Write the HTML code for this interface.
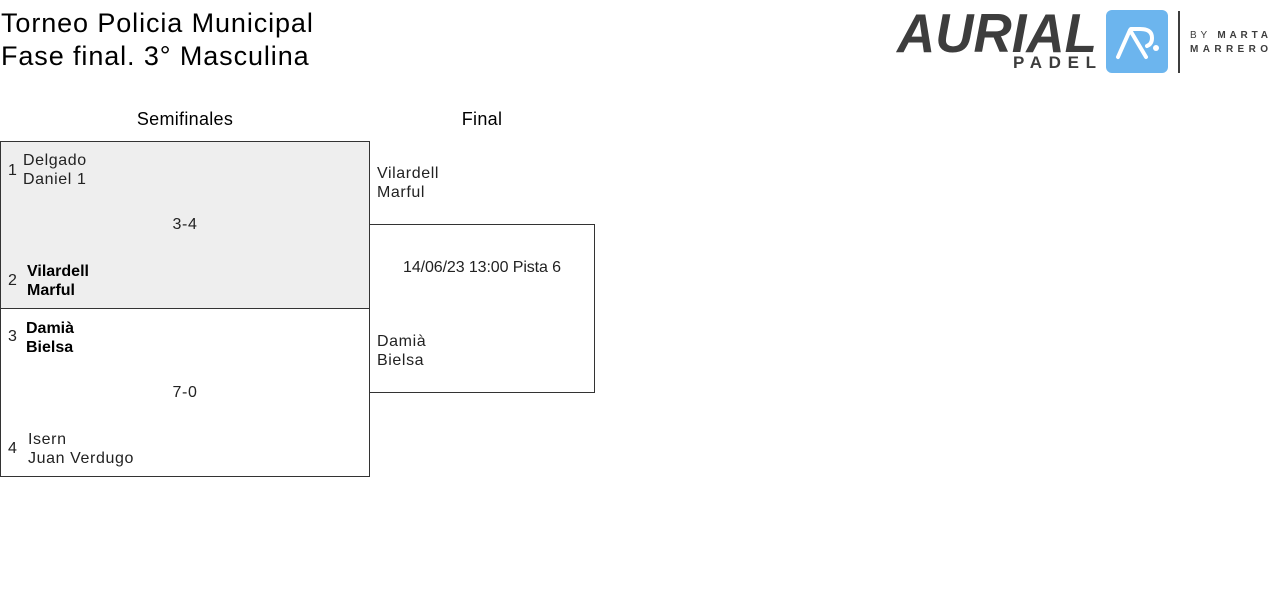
<!DOCTYPE html>
<html>
<head>
<meta charset="utf-8">
<style>
  html,body{margin:0;padding:0;background:#fff;}
  body{width:1280px;height:595px;position:relative;overflow:hidden;font-family:"Liberation Sans",Arial,sans-serif;color:#222;}
  .t{position:absolute;white-space:nowrap;}
  .title{font-size:27px;letter-spacing:0.9px;color:#000;left:1px;line-height:31px;}
  .hdr{font-size:18px;color:#000;transform:translateX(-50%);letter-spacing:0.3px;}
  .s{font-size:16px;letter-spacing:0.6px;line-height:19px;color:#222;}
  .b{font-weight:bold;color:#000;letter-spacing:0;}
  .c{transform:translateX(-50%);}
  .box{position:absolute;border:1px solid #333;box-sizing:border-box;}
</style>
</head>
<body>
<div class="t title" style="top:8px;">Torneo Policia Municipal</div>
<div class="t title" style="top:41px;">Fase final. 3° Masculina</div>

<!-- logo -->
<svg style="position:absolute;left:0;top:0" width="1280" height="90">
  <text x="897" y="52" font-family="Liberation Sans, sans-serif" font-weight="bold" font-style="italic" font-size="55" fill="#3d3d3d" textLength="200" lengthAdjust="spacingAndGlyphs">AURIAL</text>
  <text x="1013" y="68" font-family="Liberation Sans, sans-serif" font-weight="bold" font-size="17" fill="#3d3d3d" textLength="83" lengthAdjust="spacing">PADEL</text>
  <rect x="1106" y="10" width="62" height="63" rx="6" fill="#6cb5ee"/>
  <path d="M1118,57 L1130,30 L1146,57" fill="none" stroke="#fff" stroke-width="4" stroke-linecap="round" stroke-linejoin="round"/>
  <path d="M1131,29 L1140,29 Q1152,29 1152,38 Q1152,44 1147,46" fill="none" stroke="#fff" stroke-width="4" stroke-linecap="round"/>
  <circle cx="1156" cy="48" r="3" fill="#fff"/>
  <rect x="1178" y="11" width="2" height="62" fill="#3d3d3d"/>
  <text x="1190" y="38" font-family="Liberation Sans, sans-serif" font-size="10" fill="#3d3d3d" textLength="78" lengthAdjust="spacing">BY <tspan font-weight="bold">MARTA</tspan></text>
  <text x="1190" y="52" font-family="Liberation Sans, sans-serif" font-weight="bold" font-size="10" fill="#3d3d3d" textLength="78" lengthAdjust="spacing">MARRERO</text>
</svg>

<div class="t hdr" style="left:185px;top:109px;">Semifinales</div>
<div class="t hdr" style="left:482px;top:109px;">Final</div>

<!-- semifinal boxes -->
<div class="box" style="left:0;top:141px;width:370px;height:168px;background:#eeeeee;"></div>
<div class="box" style="left:0;top:308px;width:370px;height:169px;"></div>
<!-- final box -->
<div class="box" style="left:369px;top:224px;width:226px;height:169px;"></div>

<!-- match 1 -->
<div class="t s" style="left:8px;top:161px;">1</div>
<div class="t s" style="left:23px;top:151px;">Delgado<br>Daniel 1</div>
<div class="t s c" style="left:185px;top:215px;">3-4</div>
<div class="t s" style="left:8px;top:271px;">2</div>
<div class="t s b" style="left:27px;top:262px;">Vilardell<br>Marful</div>

<!-- match 2 -->
<div class="t s" style="left:8px;top:327px;">3</div>
<div class="t s b" style="left:26px;top:319px;">Damià<br>Bielsa</div>
<div class="t s c" style="left:185px;top:383px;">7-0</div>
<div class="t s" style="left:8px;top:439px;">4</div>
<div class="t s" style="left:28px;top:430px;">Isern<br>Juan Verdugo</div>

<!-- final -->
<div class="t s" style="left:377px;top:164px;">Vilardell<br>Marful</div>
<div class="t s c" style="left:482px;top:258px;letter-spacing:-0.1px;">14/06/23 13:00 Pista 6</div>
<div class="t s" style="left:377px;top:332px;">Damià<br>Bielsa</div>
</body>
</html>
